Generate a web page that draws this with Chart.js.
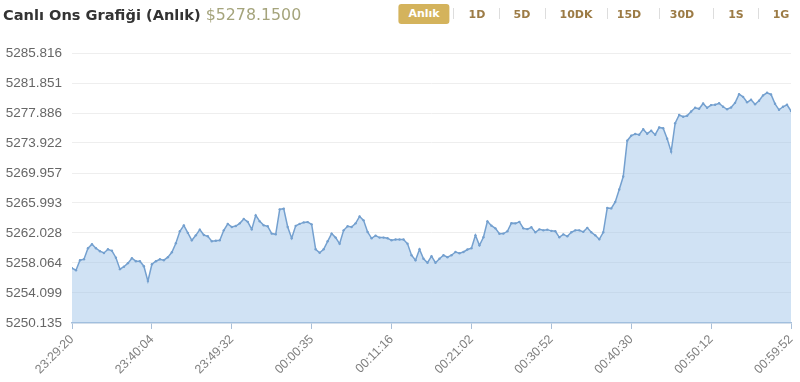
<!DOCTYPE html>
<html>
<head>
<meta charset="utf-8">
<script src="https://cdn.jsdelivr.net/npm/chart.js@4.4.1/dist/chart.umd.min.js"></script>
<style>
    html, body { margin: 0; padding: 0; background: #fff; }
    #wrap { position: relative; width: 800px; height: 382px; overflow: hidden; }
    #chart { position: absolute; left: 0; top: 0; }
    .title { position: absolute; left: 3px; top: 5px; font: bold 14.6px "DejaVu Sans", sans-serif; color: #333; white-space: nowrap; }
    .title .price { font-weight: normal; font-size: 15.8px; color: #a5a47c; margin-left: 5px; }
    .btn { position: absolute; top: 8px; transform: translateX(-50%); font: bold 11px "DejaVu Sans", sans-serif; color: #9c7b45; white-space: nowrap; }
    .btn.active { top: 4px; height: 20px; line-height: 20px; padding: 0 10px; background: #d4b35c; color: #fff; border-radius: 3px; }
    .sep { position: absolute; top: 8px; width: 1px; height: 11px; background: #ddd; }
</style>
</head>
<body>
<div id="wrap">
    <canvas id="chart" width="800" height="382"></canvas>
    <div class="title">Canlı Ons Grafiği (Anlık)<span class="price">$5278.1500</span></div>
    <div id="buttons"></div>
</div>
<script>
// periods shown in the header
const periods = ["Anlık", "1D", "5D", "10DK", "15D", "30D", "1S", "1G"];
const periodX = [424, 477, 522, 576, 629, 682, 736, 781];
const sepX = [453, 499, 545, 607, 659, 713, 758];

// x axis labels, one every 20 points
const timeLabels = ["23:29:20", "23:40:04", "23:49:32", "00:00:35", "00:11:16",
    "00:21:02", "00:30:52", "00:40:30", "00:50:12", "00:59:52"];
const labelStep = 20;

// y axis tick values
const yTicks = [5250.135, 5254.099, 5258.064, 5262.028, 5265.993,
    5269.957, 5273.922, 5277.886, 5281.851, 5285.816];

// ounce price
const prices = [
    5257.38, 5257.11, 5258.43, 5258.56, 5260.01, 5260.54, 5260.01, 5259.62, 5259.39, 5259.88,
    5259.68, 5258.76, 5257.25, 5257.57, 5258.04, 5258.69, 5258.30, 5258.30, 5257.64, 5255.67,
    5257.90, 5258.30, 5258.56, 5258.43, 5258.83, 5259.48, 5260.67, 5262.25, 5263.04, 5262.05,
    5261.06, 5261.72, 5262.47, 5261.76, 5261.59, 5260.93, 5261.00, 5261.06, 5262.38, 5263.24,
    5262.82, 5262.95, 5263.30, 5263.89, 5263.50, 5262.51, 5264.36, 5263.57, 5263.04, 5262.91,
    5261.95, 5261.85, 5265.15, 5265.24, 5262.82, 5261.33, 5262.97, 5263.24, 5263.43, 5263.47,
    5263.17, 5259.88, 5259.42, 5259.88, 5260.93, 5261.95, 5261.42, 5260.60, 5262.38, 5262.91,
    5262.82, 5263.30, 5264.22, 5263.70, 5262.16, 5261.33, 5261.68, 5261.42, 5261.42, 5261.33,
    5261.06, 5261.16, 5261.16, 5261.16, 5260.60, 5259.09, 5258.43, 5259.88, 5258.63, 5258.10,
    5258.96, 5258.10, 5258.63, 5259.09, 5258.83, 5259.09, 5259.52, 5259.35, 5259.52, 5259.84,
    5260.01, 5261.72, 5260.40, 5261.46, 5263.57, 5263.00, 5262.64, 5261.92, 5261.95, 5262.25,
    5263.33, 5263.30, 5263.50, 5262.64, 5262.54, 5262.78, 5262.12, 5262.51, 5262.38, 5262.47,
    5262.31, 5262.25, 5261.46, 5261.85, 5261.59, 5262.12, 5262.38, 5262.38, 5262.18, 5262.71,
    5262.12, 5261.72, 5261.20, 5262.12, 5265.34, 5265.28, 5266.13, 5267.78, 5269.49, 5274.23,
    5274.89, 5275.11, 5275.02, 5275.75, 5275.15, 5275.55, 5275.02, 5275.98, 5275.88, 5274.49,
    5272.78, 5276.54, 5277.62, 5277.39, 5277.52, 5278.09, 5278.58, 5278.44, 5279.14, 5278.58,
    5278.93, 5278.97, 5279.17, 5278.71, 5278.38, 5278.62, 5279.23, 5280.38, 5280.02, 5279.30,
    5279.63, 5279.04, 5279.50, 5280.21, 5280.56, 5280.34, 5279.10, 5278.31, 5278.71, 5278.97,
    5278.15
];

// header buttons
const btnBox = document.getElementById("buttons");
periods.forEach((p, i) => {
    const b = document.createElement("div");
    b.className = "btn" + (i === 0 ? " active" : "");
    b.textContent = p;
    b.style.left = periodX[i] + "px";
    btnBox.appendChild(b);
});
sepX.forEach((x) => {
    const s = document.createElement("div");
    s.className = "sep";
    s.style.left = x + "px";
    btnBox.appendChild(s);
});

const font = { family: "'Liberation Sans', Arial, sans-serif" };

new Chart(document.getElementById("chart"), {
    type: "line",
    data: {
        datasets: [{
            data: prices.map((p, i) => ({ x: i, y: p })),
            borderColor: "#74a0cf",
            borderWidth: 1.5,
            backgroundColor: "rgba(150, 190, 230, 0.45)",
            fill: "start",
            tension: 0,
            pointRadius: 1.2,
            pointBackgroundColor: "#74a0cf",
            pointBorderWidth: 0,
        }],
    },
    options: {
        responsive: false,
        animation: false,
        layout: { padding: { top: 53, left: 3, right: 9, bottom: 2 } },
        plugins: { legend: { display: false }, tooltip: { enabled: false } },
        scales: {
            x: {
                type: "linear",
                min: 0,
                max: prices.length - 1,
                border: { color: "#a9bfd8", width: 1.5 },
                grid: { drawOnChartArea: false, color: "#a9bfd8", tickLength: 6 },
                afterFit: (s) => { s.paddingRight = 0; },
                ticks: {
                    stepSize: labelStep,
                    autoSkip: false,
                    minRotation: 45,
                    maxRotation: 45,
                    color: "#808080",
                    font: { ...font, size: 12.5 },
                    callback: (v) => timeLabels[Math.round(v / labelStep)] || "",
                },
            },
            y: {
                min: yTicks[0],
                max: yTicks[yTicks.length - 1],
                border: { display: false },
                grid: { color: "#eeeeee", drawTicks: false },
                afterBuildTicks: (scale) => {
                    scale.ticks = yTicks.map((v) => ({ value: v }));
                },
                afterFit: (s) => { s.width = 69; },
                ticks: {
                    padding: 10,
                    color: "#666",
                    font: { ...font, size: 13.5 },
                    callback: (v) => v.toFixed(3),
                },
            },
        },
    },
});
</script>
</body>
</html>
